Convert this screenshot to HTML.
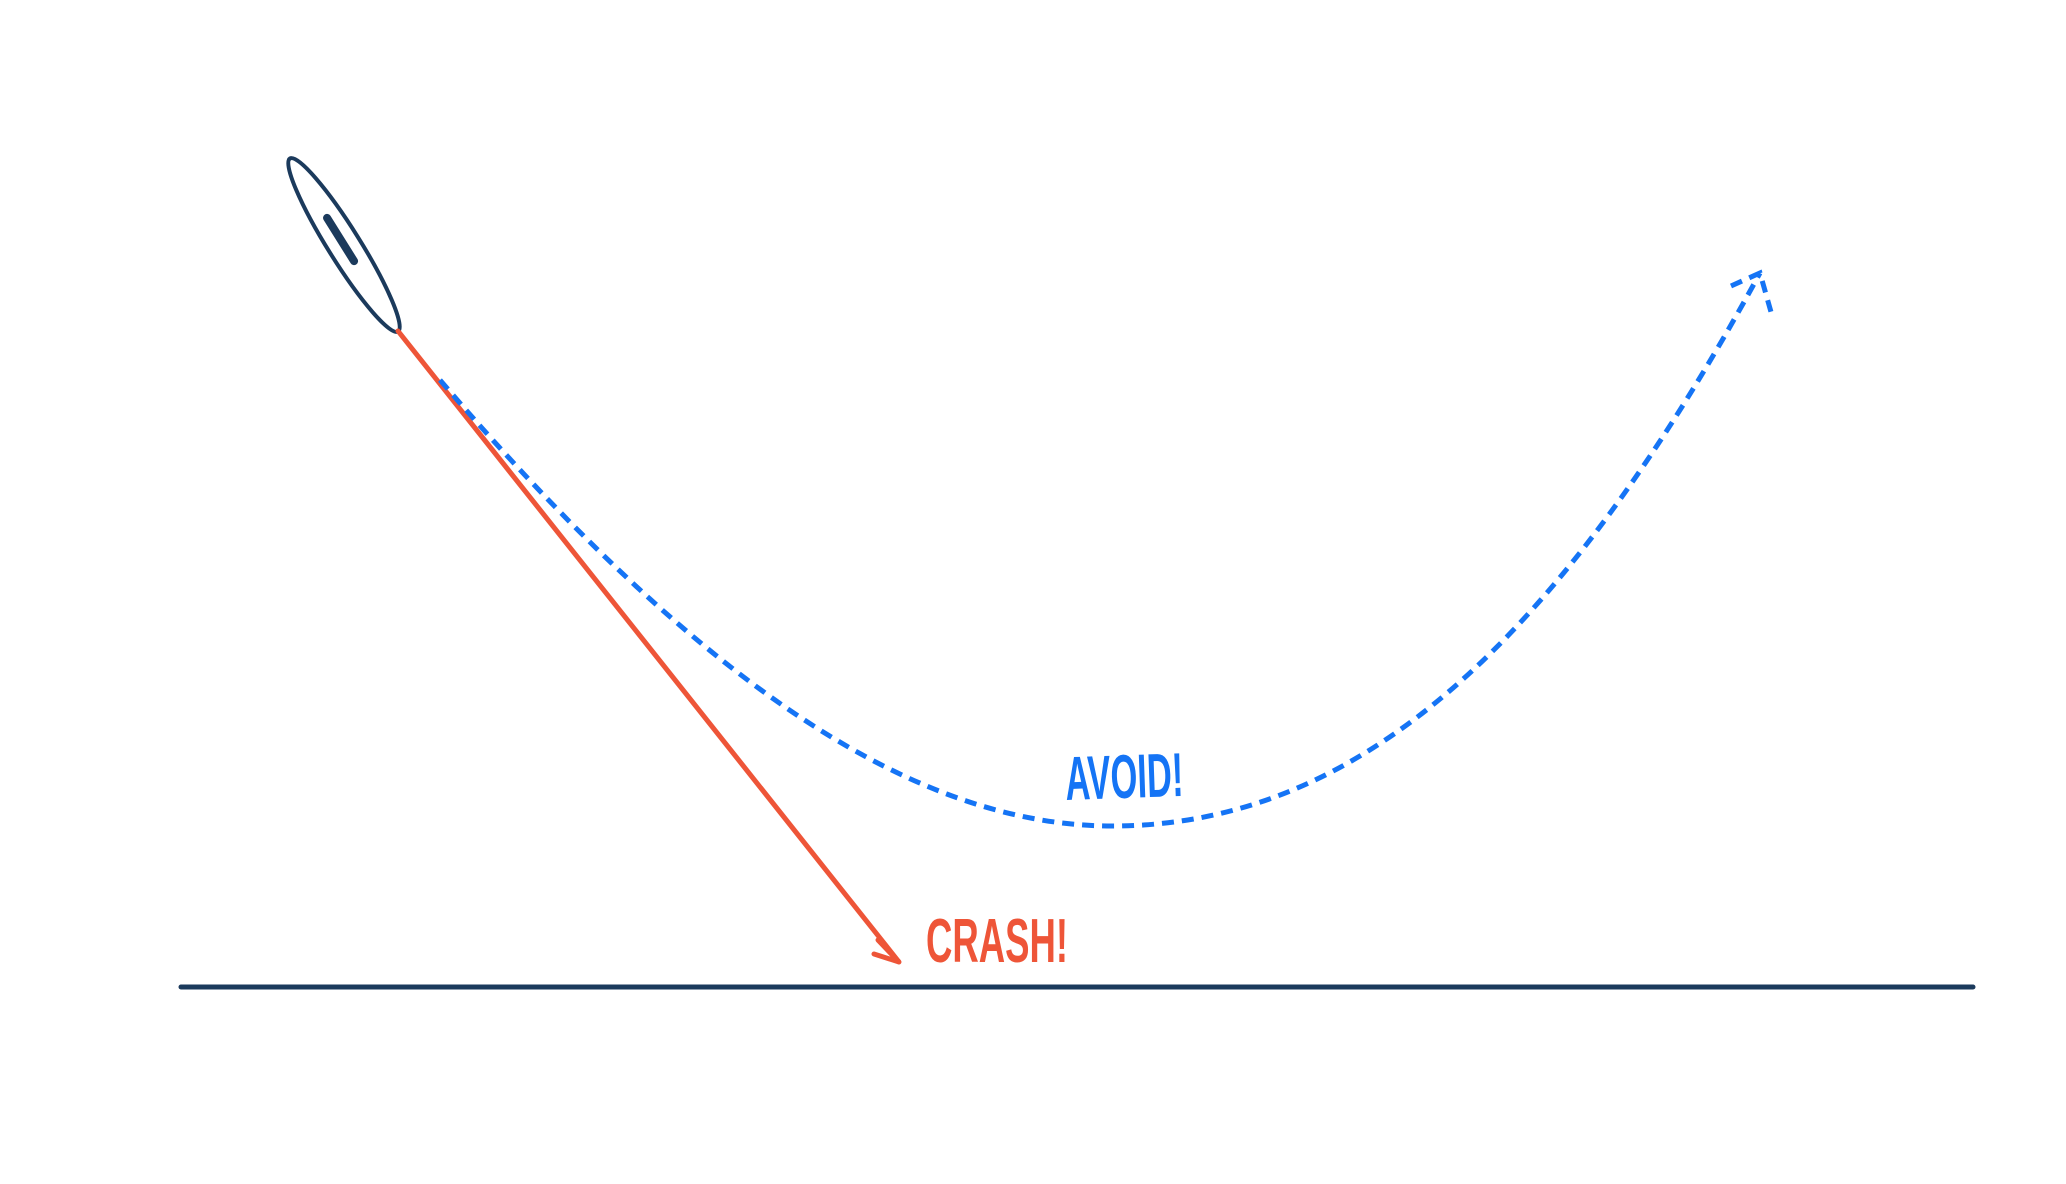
<!DOCTYPE html>
<html><head><meta charset="utf-8"><style>
html,body{margin:0;padding:0;background:#fff;width:2066px;height:1184px;overflow:hidden}
svg{display:block}
text{font-family:"Liberation Sans",sans-serif}
</style></head><body>
<svg width="2066" height="1184" viewBox="0 0 2066 1184">
<line x1="181" y1="987" x2="1973" y2="987" stroke="#1b3a5c" stroke-width="5" stroke-linecap="round"/>
<g transform="translate(344,245) rotate(58)">
<ellipse cx="0" cy="0" rx="102" ry="16" fill="none" stroke="#1b3a5c" stroke-width="4"/>
<line x1="-32" y1="0" x2="19" y2="0" stroke="#1b3a5c" stroke-width="8" stroke-linecap="round"/>
</g>
<g stroke="#ee5538" stroke-width="5" fill="none" stroke-linecap="round">
<line x1="398" y1="331" x2="899" y2="962"/>
<path d="M878 940 L899 962 L874 954"/>
</g>
<g stroke="#1574f5" stroke-width="5" fill="none" stroke-dasharray="12 8">
<path d="M440 380 C 680 660 900 826 1112 826 C 1360 826 1560 640 1760 273"/>
<path d="M1731 286 L1760 273 L1771 312"/>
</g>
<text x="1066" y="800" font-size="62" font-weight="bold" fill="#1574f5" textLength="118" lengthAdjust="spacingAndGlyphs" transform="rotate(-2 1066 800)">AVOID!</text>
<text x="926" y="962" font-size="62" font-weight="bold" fill="#ee5538" textLength="142" lengthAdjust="spacingAndGlyphs">CRASH!</text>
</svg>
</body></html>
